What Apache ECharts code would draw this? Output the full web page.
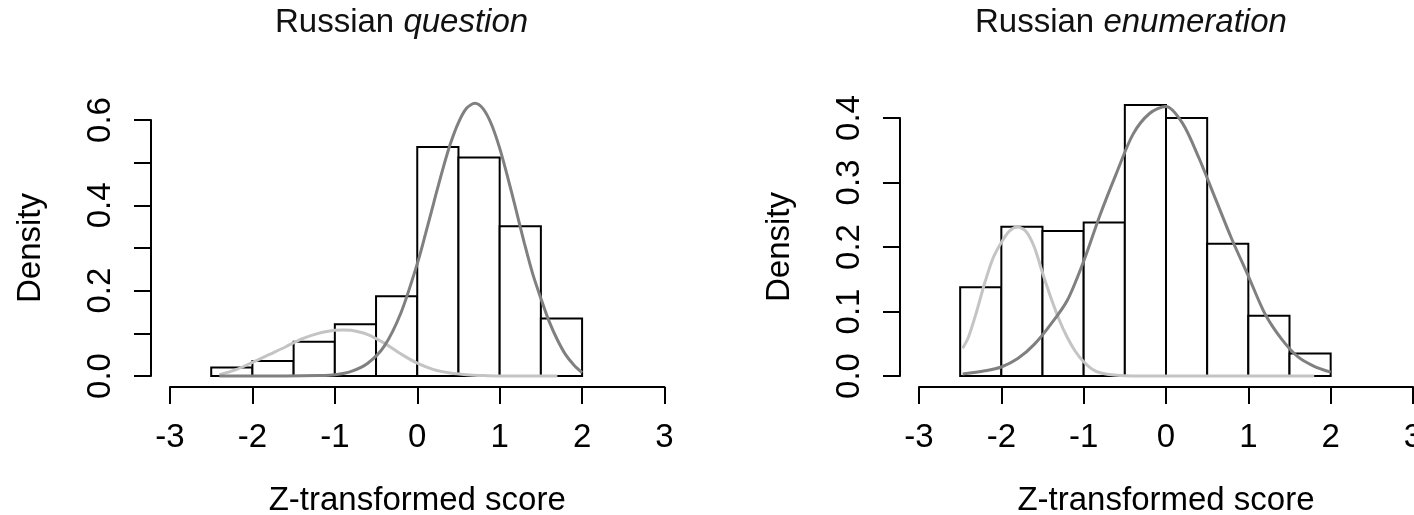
<!DOCTYPE html>
<html>
<head>
<meta charset="utf-8">
<script src="https://cdn.jsdelivr.net/npm/echarts@6/dist/echarts.min.js"></script>
<style>
html,body{margin:0;padding:0;background:#fff;}
#chart{width:1414px;height:515px;}
</style>
</head>
<body>
<div id="chart"></div>
<script>
// ---- data ----
const binEdges = [-2.5, -2, -1.5, -1, -0.5, 0, 0.5, 1, 1.5, 2];
const questionDensity    = [0.020, 0.035, 0.080, 0.121, 0.187, 0.537, 0.512, 0.351, 0.135];
const enumerationDensity = [0.1375, 0.2315, 0.225, 0.238, 0.420, 0.400, 0.205, 0.0935, 0.035];

const xTicks = [-3, -2, -1, 0, 1, 2, 3];

// question: main component (dark) and minor component (light)
const qDarkX = [-2.4,-2.0,-1.6,-1.2,-1.0,-0.8,-0.6,-0.4,-0.2,0.0,0.1,0.2,0.3,0.4,0.5,0.6,0.7,0.8,0.9,1.0,1.1,1.2,1.3,1.4,1.5,1.6,1.7,1.8,1.9,2.0];
const qDarkY = [0,0,0,0.001,0.003,0.011,0.030,0.070,0.147,0.263,0.333,0.406,0.478,0.543,0.594,0.628,0.639,0.626,0.590,0.534,0.464,0.388,0.311,0.240,0.182,0.128,0.085,0.050,0.026,0.008];
const qLightX = [-2.4,-2.2,-2.0,-1.8,-1.6,-1.4,-1.2,-1.0,-0.9,-0.8,-0.6,-0.4,-0.2,0.0,0.2,0.4,0.6,0.8,1.0,1.2,1.4,1.7];
const qLightY = [0.003,0.015,0.032,0.050,0.068,0.087,0.100,0.107,0.108,0.107,0.097,0.077,0.052,0.030,0.015,0.007,0.003,0.001,0,0,0,0];

// enumeration
const eDarkX = [-2.47,-2.2,-2.0,-1.8,-1.6,-1.4,-1.2,-1.0,-0.8,-0.6,-0.4,-0.2,0.0,0.2,0.4,0.6,0.8,1.0,1.2,1.4,1.6,1.8,2.0];
const eDarkY = [0.003,0.008,0.014,0.027,0.049,0.080,0.117,0.178,0.250,0.315,0.375,0.407,0.418,0.392,0.338,0.275,0.212,0.155,0.097,0.058,0.030,0.015,0.006];
const eLightX = [-2.47,-2.4,-2.3,-2.2,-2.1,-2.0,-1.9,-1.8,-1.7,-1.6,-1.5,-1.4,-1.3,-1.2,-1.1,-1.0,-0.9,-0.8,-0.6,-0.4,0,0.5,1.0,1.5,1.8];
const eLightY = [0.043,0.060,0.100,0.145,0.183,0.207,0.225,0.231,0.224,0.200,0.160,0.122,0.088,0.060,0.038,0.022,0.011,0.005,0.001,0,0,0,0,0,0];

const titles = [['Russian ', 'question'], ['Russian ', 'enumeration']];
const xLabel = 'Z-transformed score';
const yLabel = 'Density';

// ---- build ----
const FONT = 'Liberation Sans, Arial, sans-serif';
const INK = '#000';
function bins(dens){ return dens.map((d,i)=>[binEdges[i], binEdges[i+1], d]); }
function pairs(xs, ys){ return xs.map((x,i)=>[x, ys[i]]); }

function renderBar(params, api){
  const p0 = api.coord([api.value(0), api.value(2)]);
  const p1 = api.coord([api.value(1), 0]);
  return {type:'rect', shape:{x:p0[0], y:p0[1], width:p1[0]-p0[0], height:p1[1]-p0[1]},
          style:{fill:'#fff', stroke:INK, lineWidth:2}};
}

function xAxisOpt(gi){
  return {type:'value', gridIndex:gi, min:xTicks[0], max:xTicks[xTicks.length-1], interval:1, offset:11,
    axisLine:{show:true, onZero:false, lineStyle:{color:INK, width:2}},
    axisTick:{show:true, length:17, lineStyle:{color:INK, width:2}},
    axisLabel:{show:true, margin:34, fontSize:33, fontFamily:FONT, color:INK, showMinLabel:true, showMaxLabel:true},
    splitLine:{show:false},
    name:xLabel, nameLocation:'middle', nameGap:97,
    nameTextStyle:{fontSize:33, fontFamily:FONT, color:INK}};
}
function yAxisOpt(gi, max, showAll){
  return {type:'value', gridIndex:gi, min:0, max:max, interval:0.1, offset:19,
    axisLine:{show:true, onZero:false, lineStyle:{color:INK, width:2}},
    axisTick:{show:true, length:17, lineStyle:{color:INK, width:2}},
    axisLabel:{show:true, rotate:90, margin:34, fontSize:33, fontFamily:FONT, color:INK,
      showMinLabel:true, showMaxLabel:true,
      formatter:function(v){ const k=Math.round(v*10); if(!showAll && k%2!==0) return ''; return v.toFixed(1);} },
    splitLine:{show:false},
    name:yLabel, nameLocation:'middle', nameGap:104,
    nameTextStyle:{fontSize:33, fontFamily:FONT, color:INK}};
}
function lineSeries(gi, xs, ys, color){
  return {type:'line', xAxisIndex:gi, yAxisIndex:gi, data:pairs(xs, ys), showSymbol:false, symbol:'none',
    smooth:0.3, clip:false, lineStyle:{color:color, width:3}, z:3, silent:true};
}
function titleOpt(t, left){
  return {text:'{a|'+t[0]+'}{b|'+t[1]+'}', left:left, top:6, padding:0,
    textStyle:{fontWeight:'normal', rich:{
      a:{fontSize:33, fontWeight:'normal', fontFamily:FONT, color:'#111'},
      b:{fontSize:33, fontWeight:'normal', fontFamily:FONT, fontStyle:'italic', color:'#111'}}}};
}

const DARK = '#808080', LIGHT = '#c4c4c4';
const option = {
  animation:false,
  backgroundColor:'#fff',
  title:[titleOpt(titles[0], 275), titleOpt(titles[1], 975)],
  grid:[
    {left:170, top:120, width:494.5, height:256, containLabel:false, outerBoundsMode:'none'},
    {left:919, top:118, width:494, height:258, containLabel:false, outerBoundsMode:'none'}
  ],
  xAxis:[xAxisOpt(0), xAxisOpt(1)],
  yAxis:[yAxisOpt(0, 0.6, false), yAxisOpt(1, 0.4, true)],
  series:[
    {type:'custom', xAxisIndex:0, yAxisIndex:0, renderItem:renderBar, data:bins(questionDensity), encode:{x:[0,1], y:2}, clip:false, z:2, silent:true},
    {type:'custom', xAxisIndex:1, yAxisIndex:1, renderItem:renderBar, data:bins(enumerationDensity), encode:{x:[0,1], y:2}, clip:false, z:2, silent:true},
    lineSeries(0, qLightX, qLightY, LIGHT),
    lineSeries(0, qDarkX, qDarkY, DARK),
    lineSeries(1, eLightX, eLightY, LIGHT),
    lineSeries(1, eDarkX, eDarkY, DARK)
  ]
};
const chart = echarts.init(document.getElementById('chart'), null, {renderer:'canvas'});
chart.setOption(option);
</script>
</body>
</html>
